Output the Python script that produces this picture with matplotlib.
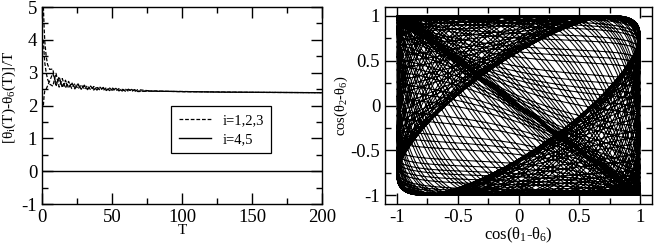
import numpy as np
import matplotlib
matplotlib.use("Agg")
import matplotlib.pyplot as plt
from matplotlib.ticker import MultipleLocator
from matplotlib.lines import Line2D

plt.rcParams['font.family'] = ['Liberation Serif', 'DejaVu Serif']
plt.rcParams['mathtext.fontset'] = 'custom'
plt.rcParams['mathtext.rm'] = 'Liberation Serif'
plt.rcParams['mathtext.it'] = 'Liberation Serif:italic'
plt.rcParams['axes.unicode_minus'] = False

# left panel: (theta_i(T) - theta_6(T)) / T
T_vals = [1, 1.5, 2, 3, 4, 5.5, 7.75, 10, 12.25, 14.5, 16.75, 19, 21.25, 23.5,
          25.75, 28, 30.25, 32.5, 34.75, 37, 39.25, 41.5, 43.75, 46, 48.25,
          50.5, 52.75, 55, 57.25, 59.5, 61.75, 64, 66.25, 68.5, 80, 100, 130,
          160, 200]
curve_a = [5.0, 4.4, 3.95, 3.5, 3.25, 3.1, 3.11, 2.58, 2.88, 2.54, 2.77, 2.525,
           2.70, 2.505, 2.66, 2.494, 2.62, 2.483, 2.593, 2.471, 2.571, 2.462,
           2.551, 2.457, 2.536, 2.45, 2.523, 2.444, 2.51, 2.436, 2.497, 2.429,
           2.487, 2.425, 2.445, 2.42, 2.412, 2.398, 2.392]
curve_b = [4.0, 3.6, 3.3, 3.0, 2.8, 2.65, 2.59, 2.98, 2.56, 2.82, 2.53, 2.735,
           2.516, 2.675, 2.502, 2.636, 2.489, 2.607, 2.477, 2.579, 2.469, 2.558,
           2.459, 2.543, 2.454, 2.53, 2.447, 2.516, 2.44, 2.504, 2.433, 2.491,
           2.427, 2.483, 2.432, 2.428, 2.405, 2.402, 2.388]
curve_c = [2.0, 2.3, 2.45, 2.5, 2.6, 2.75, 2.98, 2.68, 2.80, 2.61, 2.71, 2.578,
           2.657, 2.548, 2.619, 2.53, 2.588, 2.514, 2.564, 2.498, 2.546, 2.486,
           2.528, 2.479, 2.516, 2.47, 2.504, 2.462, 2.493, 2.453, 2.481, 2.445,
           2.472, 2.44, 2.438, 2.424, 2.409, 2.40, 2.39]
flat_T = [0, 200]
flat_val = [0, 0]

# right panel: trajectory parameters
omega = 2.4          # mean rotation rate (left panel limit)
delta_mean = np.pi   # mean phase lag between the two angles
delta_amp = 2.5      # swing of the lag, sets the rounded corners
delta_freq = 0.9166  # rate of the lag oscillation
delta_shape = 1.8    # lag lingers near its mean and its extremes
t_end = 200

fig = plt.figure(figsize=(6.54, 2.45), dpi=100)
ax1 = fig.add_axes([0.0642, 0.1673, 0.4281, 0.8041])
ax2 = fig.add_axes([0.5887, 0.1673, 0.4083, 0.8041])

for c in (curve_a, curve_b, curve_c):
    ax1.plot(T_vals, c, color='k', lw=0.9, dashes=(3, 1.5))
ax1.plot(flat_T, flat_val, color='k', lw=1.0)
ax1.set_xlim(0, 200)
ax1.set_ylim(-1, 5)
ax1.xaxis.set_major_locator(MultipleLocator(50))
ax1.xaxis.set_minor_locator(MultipleLocator(25))
ax1.yaxis.set_major_locator(MultipleLocator(1))
ax1.yaxis.set_minor_locator(MultipleLocator(0.5))
ax1.set_xlabel('T', fontsize=11, labelpad=-1)
ax1.set_ylabel(r'[θ$_\mathrm{i}$(T)-θ$_\mathrm{6}$(T)]/T', fontsize=11)
ax1.yaxis.set_label_coords(-0.086, 0.54)

handles = [Line2D([], [], color='k', lw=0.9, dashes=(3, 1.5)),
           Line2D([], [], color='k', lw=1.0)]
leg = ax1.legend(handles, ['i=1,2,3', 'i=4,5'], loc='upper left',
                 bbox_to_anchor=(0.436, 0.533), fontsize=10.5, fancybox=False,
                 edgecolor='k', framealpha=1, handlelength=2.2, borderpad=0.5,
                 labelspacing=0.4)
leg.get_frame().set_linewidth(0.9)

t = np.linspace(0, t_end, 40000)
phi = omega * t
s = np.sin(delta_freq * t)
lag = delta_mean + delta_amp * np.sign(s) * np.abs(s) ** delta_shape
ax2.plot(np.cos(phi), np.cos(phi + lag), color='k', lw=0.75)
ax2.set_xlim(-1.1, 1.1)
ax2.set_ylim(-1.1, 1.1)
ax2.xaxis.set_major_locator(MultipleLocator(0.5))
ax2.xaxis.set_minor_locator(MultipleLocator(0.25))
ax2.yaxis.set_major_locator(MultipleLocator(0.5))
ax2.yaxis.set_minor_locator(MultipleLocator(0.25))
fmt = lambda v, p: ('%g' % v)
ax2.xaxis.set_major_formatter(fmt)
ax2.yaxis.set_major_formatter(fmt)
ax2.set_xlabel(r'cos(θ$_\mathrm{1}$-θ$_\mathrm{6}$)', fontsize=12, labelpad=0)
ax2.set_ylabel(r'cos(θ$_\mathrm{2}$-θ$_\mathrm{6}$)', fontsize=10.5, labelpad=0)

for ax in (ax1, ax2):
    ax.tick_params(which='both', direction='in', top=True, right=True,
                   labelsize=13.5, width=1)
    ax.tick_params(which='major', length=8)
    ax.tick_params(which='minor', length=4)
    for sp in ax.spines.values():
        sp.set_linewidth(1)

fig.savefig('out.png', dpi=100)
